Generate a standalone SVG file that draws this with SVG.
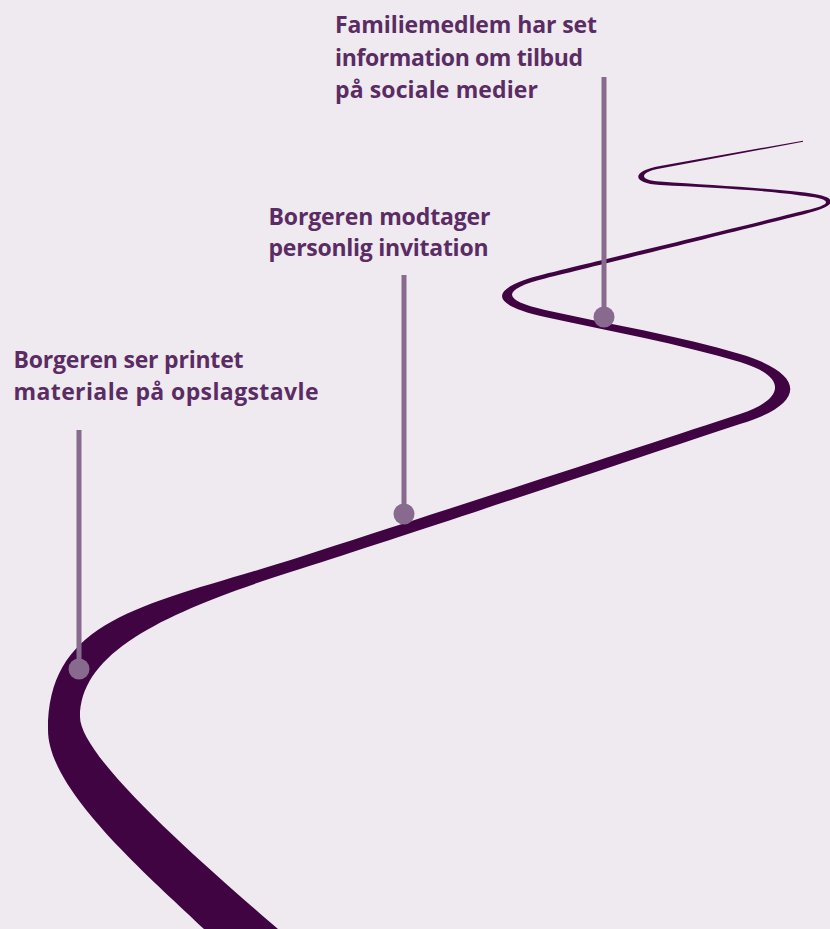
<svg xmlns="http://www.w3.org/2000/svg" width="830" height="929" viewBox="0 0 830 929">
  <style>
    .label { font-family: "Open Sans", "Noto Sans", "Liberation Sans", sans-serif; font-weight: 700; font-size: 23px; fill: #5b2c63; }
    .stick { stroke: #876a8d; stroke-width: 5; fill: none; }
    .dot { fill: #876a8d; }
    .road { fill: #410443; }
  </style>
  <rect x="0" y="0" width="830" height="929" fill="#eeeaf0"/>
  <g id="connectors">
    <path id="road" class="road" d="M 803,140.7 L 660,166 C 631,171 631,183.5 660,185 C 710,187.5 770,190.5 805,196 C 833,199.4 833,204.2 805,210.5 C 760,222 600,260.5 545,274 C 487.7,288 487.7,304.4 545,317 C 610,331.3 680,344 740,362 C 786.7,376 786.7,398.6 740,414 C 640,447 430,515 300,557 C 150,605 48,615 48,730 C 48,790 146.4,874 204,929 L 212,937 L 287,937 L 278,929 C 202.3,863.7 80,757 80,717 C 80,650 170,610 300,569 C 430,527.5 640,457 740,424 C 807,404 807,374 740,354 C 680,336 610,324.3 545,310 C 501,300.3 501,289.2 545,278.4 C 600,264.9 760,225.3 805,214 C 839.7,205.3 839.7,196.7 805,192.5 C 770,188.5 710,185 660,181.5 C 638.7,180.4 638.7,172.3 660,168.5 L 803,141.7 Z"/>
  </g>
  <g id="milestone-1">
    <line class="stick" x1="604" y1="77" x2="604" y2="317"/>
    <circle class="dot" cx="604" cy="317" r="10.5"/>
    <text class="label" x="335" y="33" textLength="262">Familiemedlem har set</text>
    <text class="label" x="335" y="65.5" textLength="248">information om tilbud</text>
    <text class="label" x="335" y="97.5" textLength="203">på sociale medier</text>
  </g>
  <g id="milestone-2">
    <line class="stick" x1="404" y1="275" x2="404" y2="514"/>
    <circle class="dot" cx="404" cy="514" r="10.5"/>
    <text class="label" x="268.5" y="224.5" textLength="222">Borgeren modtager</text>
    <text class="label" x="268.5" y="256" textLength="220">personlig invitation</text>
  </g>
  <g id="milestone-3">
    <line class="stick" x1="79" y1="430" x2="79" y2="669"/>
    <circle class="dot" cx="79" cy="669" r="10.5"/>
    <text class="label" x="13.5" y="367.5" textLength="230">Borgeren ser printet</text>
    <text class="label" x="13.5" y="399.5" textLength="305">materiale på opslagstavle</text>
  </g>
</svg>
